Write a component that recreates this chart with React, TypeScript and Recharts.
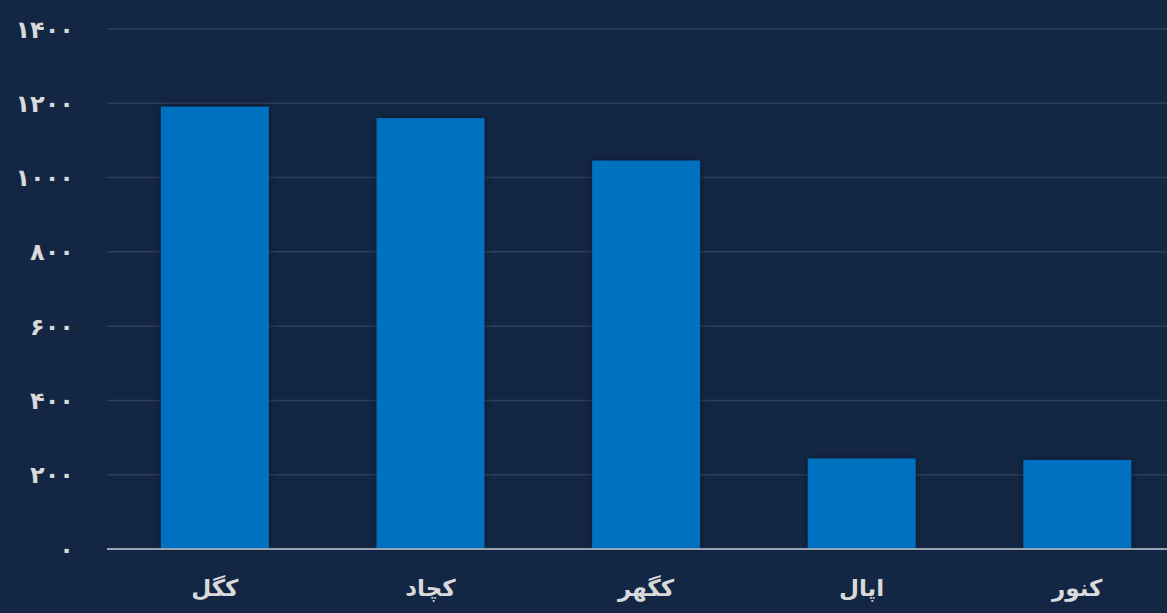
import React from 'react';
import { BarChart, Bar, XAxis, YAxis, CartesianGrid } from 'recharts';

const categories = ['کگل', 'کچاد', 'کگهر', 'اپال', 'کنور'];
const values = [1191, 1160, 1046, 244, 240];
const yTicks = [0, 200, 400, 600, 800, 1000, 1200, 1400];

const data = categories.map((name, i) => ({ name, value: values[i] }));

const persianDigits = '۰۱۲۳۴۵۶۷۸۹';
const toPersian = (v: number) => String(v).replace(/\d/g, (d) => persianDigits[Number(d)]);

const BarShape = (props: any) => {
  const { x, y, width, height, fill } = props;
  return (
    <rect
      x={x}
      y={y}
      width={width}
      height={height}
      fill={fill}
      style={{ filter: 'drop-shadow(0px 0px 4px rgba(0,0,0,0.45))' }}
    />
  );
};

export default function App() {
  return (
    <div
      style={{
        position: 'fixed',
        left: 0,
        top: 0,
        width: 1167,
        height: 613,
        overflow: 'hidden',
        background: '#132745',
      }}
    >
      <BarChart
        width={1185}
        height={613}
        data={data}
        margin={{ top: 29, right: 0, bottom: 0, left: 0 }}
        barCategoryGap="25%"
      >
        <CartesianGrid vertical={false} stroke="#2c3f5e" strokeWidth={1.5} />
        <XAxis
          dataKey="name"
          height={64}
          tickLine={false}
          axisLine={{ stroke: '#9aa3b2', strokeWidth: 2 }}
          tickMargin={25}
          tick={{ fill: '#d9d9d9', fontSize: 23, fontWeight: 'bold', fontFamily: 'DejaVu Sans' }}
          interval={0}
        />
        <YAxis
          width={107}
          domain={[0, 1400]}
          ticks={yTicks}
          tickFormatter={toPersian}
          tickLine={false}
          axisLine={false}
          tickMargin={27}
          tick={{ fill: '#d9d9d9', fontSize: 24, fontWeight: 'bold', fontFamily: 'DejaVu Sans' }}
        />
        <Bar dataKey="value" fill="#0070c0" isAnimationActive={false} shape={BarShape} />
      </BarChart>
    </div>
  );
}
